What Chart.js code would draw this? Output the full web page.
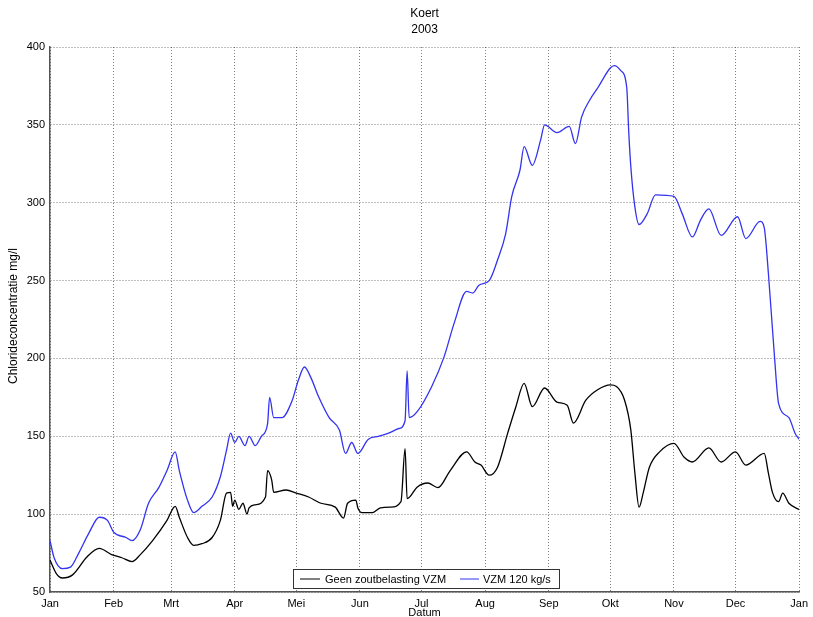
<!DOCTYPE html>
<html>
<head>
<meta charset="utf-8">
<script src="https://cdn.jsdelivr.net/npm/chart.js@4.4.1/dist/chart.umd.min.js"></script>
<style>
  html, body { margin: 0; padding: 0; background: #fff; }
  #wrap { width: 813px; height: 617px; }
</style>
</head>
<body>
<div id="wrap"><canvas id="myChart" width="813" height="617"></canvas></div>
<script>
// day of year 2003 (0 = 1 Jan) and chloride concentration (mg/l)
const monthDays = [0, 31, 59, 90, 120, 151, 181, 212, 243, 273, 304, 334, 365];
const monthLabels = ["Jan", "Feb", "Mrt", "Apr", "Mei", "Jun", "Jul", "Aug", "Sep", "Okt", "Nov", "Dec", "Jan"];
const yTicks = [50, 100, 150, 200, 250, 300, 350, 400];

const geenDays = [0, 3, 6, 11, 18, 24, 30, 35, 40, 44, 50, 57, 61, 63, 67, 70, 74, 79, 83, 86, 88, 89, 90, 92, 94, 96, 97, 100, 105, 106, 108, 109, 115, 120, 126, 132, 139, 143, 145, 149, 150, 152, 157, 161, 166, 171, 173, 174, 179, 184, 189, 195, 203, 207, 210, 214, 218, 223, 227, 231, 235, 241, 247, 252, 255, 261, 267, 273, 276, 280, 283, 285, 287, 289, 292, 297, 304, 309, 313, 321, 327, 334, 339, 348, 350, 352, 355, 357, 360, 365];
const geenValues = [70.5, 62, 59, 61, 72.5, 78, 74, 72, 69.5, 74, 83, 96, 105, 98, 85, 80, 81, 85, 96, 113.5, 114, 105, 109, 103, 107, 100, 104, 106, 111, 128, 122, 114, 115.5, 113.5, 111, 107, 104.5, 97.5, 107, 109, 104, 101, 101, 104, 104.5, 108, 142, 110, 117.5, 120, 117, 128, 140, 133.5, 131.5, 125, 130, 152, 169, 184, 169, 181, 172, 170, 158.5, 173, 180, 183, 182, 173, 154, 126, 104.5, 113.5, 130, 140, 145.5, 136.5, 133.5, 142.5, 133.5, 140, 131.5, 139, 126.5, 114, 108, 113.5, 107, 103];

const vzmDays = [0, 2, 6, 10, 14, 19, 24, 28, 31, 37, 40, 44, 48, 53, 57, 61, 63, 67, 70, 74, 79, 83, 86, 88, 90, 92, 95, 97, 100, 103, 106, 107, 109, 113, 118, 121, 124, 127, 131, 136, 141, 144, 147, 150, 155, 160, 165, 170, 173, 174, 175, 179, 186, 192, 197, 203, 206, 209, 214, 218, 222, 225, 229, 231, 235, 239, 241, 247, 253, 256, 259, 263, 267, 273, 275, 278, 281, 282, 283, 285, 287, 291, 295, 304, 308, 313, 317, 321, 327, 335, 339, 346, 348, 350, 353, 355, 360, 363, 365];
const vzmValues = [83, 72, 65, 66, 75, 88, 98, 96, 88.5, 85, 83, 90, 107, 117, 128, 140, 128, 109, 101, 105, 111, 124, 141, 152, 146, 150, 144, 150, 144, 150, 158, 175, 162, 162, 173, 186, 194.5, 188, 175, 162, 154, 139, 146, 139, 148, 150, 152, 155, 160, 192, 162, 166, 182, 201, 223, 243, 242, 247, 250, 263, 280, 304, 321, 336, 324, 340, 350, 345, 349, 338, 355, 366, 374, 386.5, 388, 385, 374, 345, 323, 297, 286, 293, 305, 304, 293, 278, 289, 296, 279, 291, 277, 288, 284, 255, 201, 171, 162, 152, 148];

const toPoints = (xs, ys) => xs.map((d, i) => ({ x: d, y: ys[i] }));
const FONT = "'Liberation Sans', Arial, sans-serif";

// title, axis labels and the boxed legend in the MATLAB style
const textPlugin = {
  id: "matlabText",
  afterDraw(chart) {
    const c = chart.ctx;
    const area = chart.chartArea;
    const mid = (area.left + area.right) / 2;
    c.save();
    c.fillStyle = "#000";
    c.textAlign = "center";
    c.textBaseline = "middle";
    c.font = "12px " + FONT;
    c.fillText("Koert", mid, 14);
    c.fillText("2003", mid, 30);
    c.font = "11px " + FONT;
    c.fillText("Datum", mid, 613);
    c.translate(14, 316);
    c.rotate(-Math.PI / 2);
    c.font = "12px " + FONT;
    c.fillText("Chlorideconcentratie mg/l", 0, 0);
    c.restore();

    // legend box
    const bx = 293, by = 569, bw = 266, bh = 19;
    c.save();
    c.fillStyle = "#fff";
    c.fillRect(bx, by, bw, bh);
    c.strokeStyle = "#333";
    c.lineWidth = 1;
    c.strokeRect(bx + 0.5, by + 0.5, bw, bh);
    const ds = chart.data.datasets;
    const items = [[300, 320, 325], [460, 479, 483]];
    c.font = "11px " + FONT;
    c.textAlign = "left";
    c.textBaseline = "middle";
    ds.forEach((d, i) => {
      const [x1, x2, tx] = items[i];
      c.strokeStyle = d.borderColor;
      c.beginPath();
      c.moveTo(x1, by + bh / 2 + 0.5);
      c.lineTo(x2, by + bh / 2 + 0.5);
      c.stroke();
      c.fillStyle = "#000";
      c.fillText(d.label, tx, by + bh / 2 + 1);
    });
    c.restore();
  }
};

const ctx = document.getElementById("myChart").getContext("2d");
const myChart = new Chart(ctx, {
  type: "line",
  data: {
    datasets: [
      {
        label: "Geen zoutbelasting VZM",
        data: toPoints(geenDays, geenValues),
        borderColor: "#000000",
        borderWidth: 1.3,
        pointRadius: 0,
        cubicInterpolationMode: "monotone",
      },
      {
        label: "VZM 120 kg/s",
        data: toPoints(vzmDays, vzmValues),
        borderColor: "#3333f0",
        borderWidth: 1.3,
        pointRadius: 0,
        cubicInterpolationMode: "monotone",
      },
    ],
  },
  options: {
    responsive: false,
    animation: false,
    layout: { padding: { left: 0, right: 10, top: 47, bottom: 0 } },
    plugins: {
      legend: { display: false },
      title: { display: false },
      tooltip: { enabled: false },
    },
    scales: {
      x: {
        type: "linear",
        min: 0,
        max: 365,
        afterFit: (s) => { s.height = 25; },
        afterBuildTicks: (s) => { s.ticks = monthDays.map((v) => ({ value: v })); },
        ticks: {
          autoSkip: false,
          maxRotation: 0,
          padding: 5,
          color: "#000",
          font: { family: FONT, size: 11 },
          callback: (v, i) => monthLabels[i],
        },
        grid: { color: "rgba(0,0,0,0.5)", drawTicks: false, lineWidth: 1 },
        border: { display: true, color: "#555", width: 1.5, dash: [1, 2] },
      },
      y: {
        min: 50,
        max: 400,
        afterFit: (s) => { s.width = 50; },
        afterBuildTicks: (s) => { s.ticks = yTicks.map((v) => ({ value: v })); },
        ticks: {
          padding: 5,
          color: "#000",
          font: { family: FONT, size: 11 },
        },
        grid: { color: "rgba(0,0,0,0.5)", drawTicks: false, lineWidth: 1 },
        border: { display: true, color: "#555", width: 1.5, dash: [1, 2] },
      },
    },
  },
  plugins: [textPlugin],
});
</script>
</body>
</html>
